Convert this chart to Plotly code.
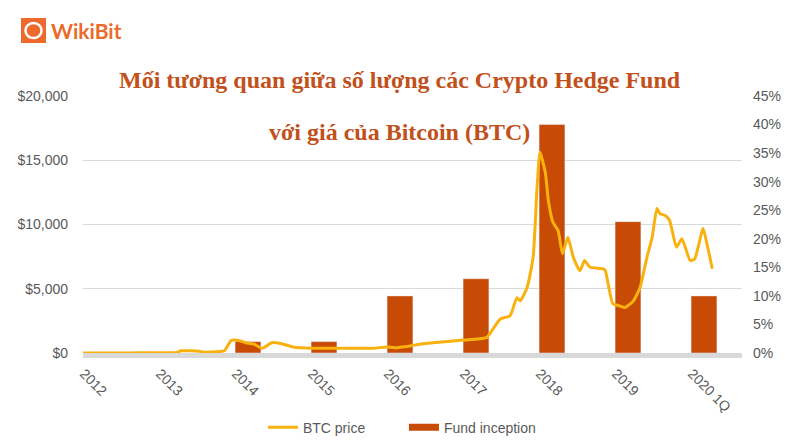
import plotly.graph_objects as go

# categories and fund inception share (%)
years = ["2012", "2013", "2014", "2015", "2016", "2017", "2018", "2019", "2020 1Q"]
fund_pct = [None, None, 2, 2, 10, 13, 40, 23, 10]

# BTC price (USD)
btc_dates = [
    "2011-12-05", "2012-03-01", "2012-06-01", "2012-09-01", "2012-12-01",
    "2013-03-01", "2013-03-20", "2013-06-15", "2013-07-05", "2013-09-20",
    "2013-10-15", "2013-11-17", "2014-01-01", "2014-01-25", "2014-03-05",
    "2014-04-15", "2014-05-30", "2014-07-01", "2014-09-10", "2014-12-15",
    "2015-05-25", "2015-10-01", "2015-12-05", "2016-01-10", "2016-03-25",
    "2016-05-15", "2016-10-20", "2017-03-28", "2017-04-12", "2017-06-02",
    "2017-07-19", "2017-08-21", "2017-09-06", "2017-10-09", "2017-11-07",
    "2017-11-25", "2017-12-10", "2018-01-05", "2018-01-19", "2018-02-10",
    "2018-03-07", "2018-03-28", "2018-04-23", "2018-05-19", "2018-06-20",
    "2018-07-12", "2018-08-08", "2018-10-08", "2018-10-20", "2018-11-25",
    "2018-12-28", "2019-01-23", "2019-03-04", "2019-04-05", "2019-05-08",
    "2019-06-02", "2019-06-25", "2019-07-09", "2019-08-04", "2019-08-25",
    "2019-09-27", "2019-10-23", "2019-12-02", "2019-12-24", "2020-02-02",
    "2020-02-24", "2020-03-17",
]
btc_price = [
    3, 5, 6, 11, 13,
    40, 170, 140, 70, 110,
    180, 990, 940, 800, 700,
    370, 800, 780, 470, 370,
    370, 370, 470, 410, 550,
    700, 940, 1200, 1480, 2650,
    2900, 4300, 4060, 5100, 7450,
    12650, 15650, 13980, 11870, 10180,
    9530, 7730, 9000, 7450, 6400,
    7190, 6670, 6560, 6400, 3830,
    3670, 3540, 4060, 5100, 7450,
    9000, 11250, 10850, 10700, 10310,
    8230, 8900, 7190, 7340, 9690,
    8230, 6560,
]

TITLE_COLOR = "#c2501a"
GREY = "#595959"
BAR_COLOR = "#c84b05"

fig = go.Figure()

fig.add_trace(go.Scatter(
    x=btc_dates, y=btc_price, name="BTC price",
    xaxis="x2", yaxis="y2", mode="lines",
    line=dict(color="#f9b10f", width=3, shape="spline", smoothing=0.5),
))
fig.add_trace(go.Bar(
    x=years, y=fund_pct, name="Fund inception", showlegend=False,
    marker_color=BAR_COLOR, width=0.34,
))
# legend entry only: wide flat swatch like the original
fig.add_trace(go.Scatter(
    x=[None], y=[None], name="Fund inception", mode="lines",
    line=dict(color=BAR_COLOR, width=7),
))

# page body adds an 8px offset, so margins are shifted to compensate
fig.update_layout(
    width=800, height=448,
    margin=dict(l=75, r=66, t=88, b=103, autoexpand=False),
    paper_bgcolor="white", plot_bgcolor="rgba(0,0,0,0)",
    font=dict(family="Liberation Sans, Arial", size=14, color=GREY),
    showlegend=True,
    legend=dict(orientation="h", x=0.487, xanchor="center", y=-0.29, yanchor="middle",
                font=dict(size=14, color=GREY), itemwidth=30,
                entrywidth=96, entrywidthmode="pixels"),
    xaxis=dict(type="category", range=[-0.171, 8.5], tickangle=45,
               ticklabelshift=-12, ticklabelstandoff=2,
               showline=True, linecolor="#d9d9d9", linewidth=5,
               showgrid=False, ticks="", tickfont=dict(size=14, color=GREY)),
    xaxis2=dict(type="date", overlaying="x", visible=False,
                range=["2011-12-05", "2020-08-07"]),
    yaxis=dict(side="right", range=[0, 45], dtick=5, ticksuffix="%",
               showgrid=False, zeroline=False, ticks="", ticklabelstandoff=10,
               tickfont=dict(size=14, color=GREY)),
    yaxis2=dict(side="left", overlaying="y", range=[0, 20000], dtick=5000,
                tickprefix="$", tickformat=",", showgrid=True, gridcolor="#d9d9d9",
                zeroline=False, ticks="", ticklabelstandoff=14,
                tickfont=dict(size=14, color=GREY)),
)

# title (two lines)
title_font = dict(family="Liberation Serif", size=24, color=TITLE_COLOR, weight="bold")
fig.add_annotation(text="Mối tương quan giữa số lượng các Crypto Hedge Fund",
                   xref="paper", yref="paper", x=0.481, y=1.062,
                   xanchor="center", yanchor="middle", showarrow=False, font=title_font)
fig.add_annotation(text="với giá của Bitcoin (BTC)",
                   xref="paper", yref="paper", x=0.481, y=0.858,
                   xanchor="center", yanchor="middle", showarrow=False, font=title_font)

# WikiBit logo
fig.add_shape(type="rect", xref="paper", yref="paper",
              x0=-0.0941, x1=-0.0561, y0=1.2062, y1=1.3035,
              fillcolor="#ee6a2c", line_width=0)
fig.add_shape(type="circle", xref="paper", yref="paper",
              x0=-0.0873, x1=-0.0629, y0=1.2257, y1=1.2840,
              line=dict(color="white", width=2.5))
fig.add_annotation(text="<b>WikiBit</b>", xref="paper", yref="paper",
                   x=-0.0516, y=1.254, xanchor="left", yanchor="middle", showarrow=False,
                   font=dict(family="Lato, Roboto", size=21, color="#ec6a2a"))

fig.write_html("out.html")
